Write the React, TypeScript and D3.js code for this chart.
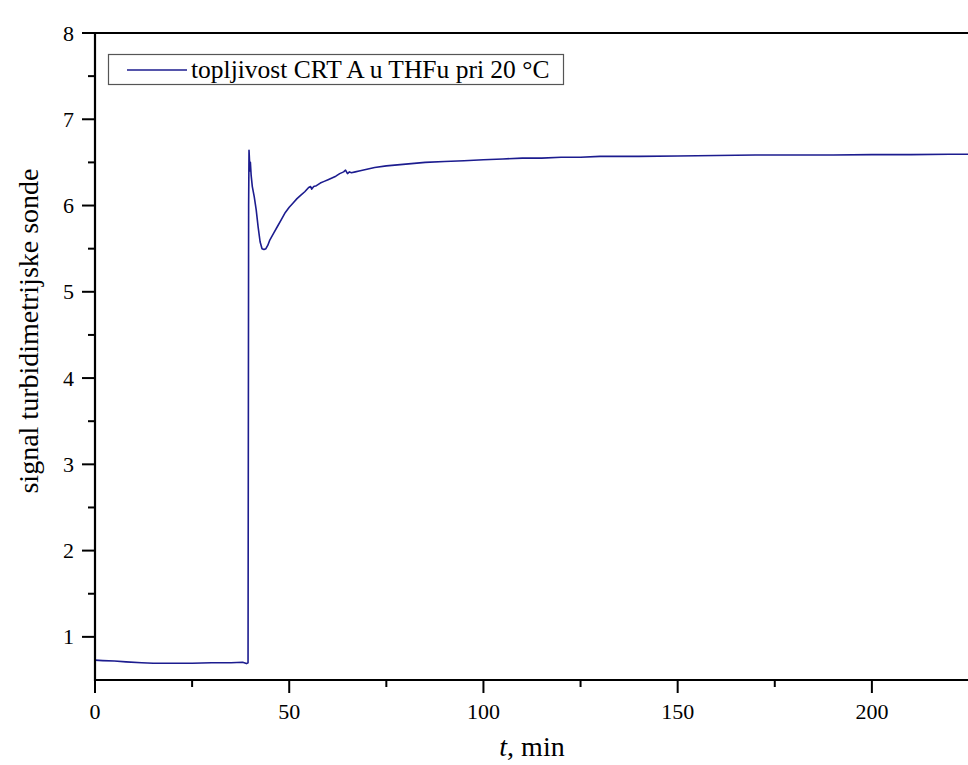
import React from "react";
import * as d3 from "d3";

const time = [0, 2, 5, 8, 12, 15, 20, 25, 30, 35, 38, 39, 39.4, 39.55, 39.65, 39.8, 39.9, 40.0, 40.2, 40.5, 41, 41.5, 42, 42.5, 43, 43.5, 44, 44.5, 45, 46, 47, 48, 49, 50, 51, 52, 53, 54, 55, 55.5, 55.8, 56.3, 57, 58, 59, 60, 61, 62, 63, 64, 64.5, 65, 65.5, 66, 67, 68, 70, 72, 75, 80, 85, 90, 95, 100, 105, 110, 115, 120, 125, 130, 140, 150, 160, 170, 180, 190, 200, 210, 220, 225];
const signal = [0.73, 0.725, 0.72, 0.71, 0.7, 0.695, 0.695, 0.695, 0.7, 0.7, 0.705, 0.69, 0.7, 6.0, 6.64, 6.5, 6.4, 6.5, 6.35, 6.22, 6.1, 5.95, 5.75, 5.58, 5.5, 5.49, 5.5, 5.54, 5.6, 5.68, 5.76, 5.84, 5.92, 5.98, 6.03, 6.08, 6.12, 6.16, 6.21, 6.22, 6.19, 6.22, 6.23, 6.26, 6.28, 6.3, 6.32, 6.34, 6.37, 6.39, 6.41, 6.37, 6.39, 6.38, 6.39, 6.4, 6.42, 6.44, 6.46, 6.48, 6.5, 6.51, 6.52, 6.53, 6.54, 6.55, 6.55, 6.56, 6.56, 6.57, 6.57, 6.575, 6.58, 6.585, 6.585, 6.585, 6.59, 6.59, 6.595, 6.595];

const xMajor = [0, 50, 100, 150, 200];
const xMinor = [25, 75, 125, 175, 225];
const yMajor = [1, 2, 3, 4, 5, 6, 7, 8];
const yMinor = [1.5, 2.5, 3.5, 4.5, 5.5, 6.5, 7.5];

const legendLabel = "topljivost CRT A u THFu pri 20 °C";
const yTitle = "signal turbidimetrijske sonde";

export default function App() {
  const W = 968, H = 765;
  const left = 95, right = 969, top = 33, bottom = 680;
  const x = d3.scaleLinear().domain([0, 225]).range([left, right]);
  const y = d3.scaleLinear().domain([0.5, 8]).range([bottom, top]);
  const pts = time.map((t, i) => [t, signal[i]] as [number, number]);
  const line = d3.line<[number, number]>().x(d => x(d[0])).y(d => y(d[1]));
  const font = "'Liberation Serif', 'Times New Roman', serif";
  const col = "#1c1c8f";
  return (
    <svg width={W} height={H} style={{ position: "absolute", left: 0, top: 0, background: "#fff" }} fontFamily={font}>
      <rect x={0} y={0} width={W} height={H} fill="#fff" />
      <path d={line(pts) || ""} fill="none" stroke={col} strokeWidth={1.6} strokeLinejoin="round" />
      {/* axes */}
      <line x1={left} x2={W} y1={top} y2={top} stroke="#000" strokeWidth={2.2} />
      <line x1={left} x2={left} y1={top - 1} y2={bottom + 1} stroke="#000" strokeWidth={2.2} />
      <line x1={left - 1} x2={W} y1={bottom} y2={bottom} stroke="#000" strokeWidth={2.2} />
      {xMajor.map(v => (
        <g key={"xm" + v}>
          <line x1={x(v)} x2={x(v)} y1={bottom} y2={bottom + 13} stroke="#000" strokeWidth={2} />
          <text x={x(v)} y={719} fontSize={22} textAnchor="middle" fill="#000">{v}</text>
        </g>
      ))}
      {xMinor.map(v => (
        <line key={"xn" + v} x1={x(v)} x2={x(v)} y1={bottom} y2={bottom + 7} stroke="#000" strokeWidth={2} />
      ))}
      {yMajor.map(v => (
        <g key={"ym" + v}>
          <line x1={left - 13} x2={left} y1={y(v)} y2={y(v)} stroke="#000" strokeWidth={2} />
          <text x={74} y={y(v) + 7.5} fontSize={22} textAnchor="end" fill="#000">{v}</text>
        </g>
      ))}
      {yMinor.map(v => (
        <line key={"yn" + v} x1={left - 7} x2={left} y1={y(v)} y2={y(v)} stroke="#000" strokeWidth={2} />
      ))}
      {/* titles */}
      <text x={532} y={756} fontSize={28} textAnchor="middle" fill="#000">
        <tspan fontStyle="italic">t</tspan>, min
      </text>
      <text transform="translate(38,331) rotate(-90)" fontSize={28} textAnchor="middle" fill="#000">{yTitle}</text>
      {/* legend */}
      <rect x={108.5} y={54.5} width={455} height={30} fill="#fff" stroke="#555" strokeWidth={1.2} />
      <line x1={127} x2={187} y1={70} y2={70} stroke={col} strokeWidth={1.6} />
      <text x={191} y={78} fontSize={25.5} fill="#000">{legendLabel}</text>
    </svg>
  );
}
